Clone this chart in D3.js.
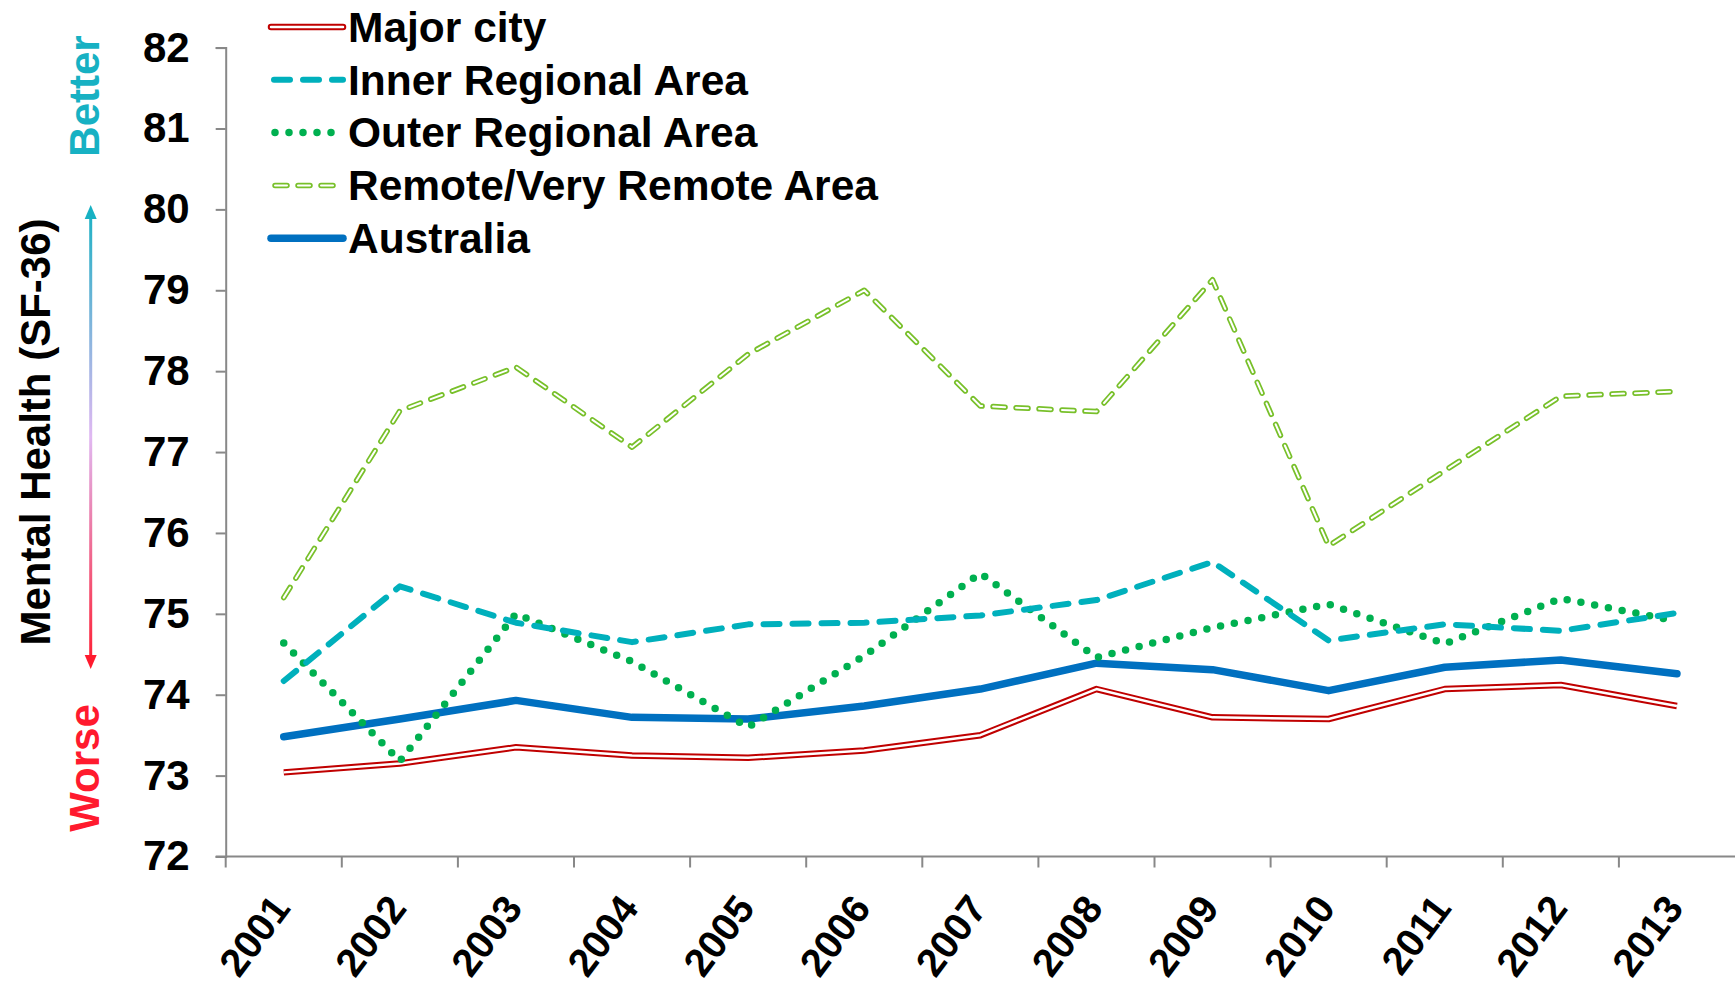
<!DOCTYPE html>
<html>
<head>
<meta charset="utf-8">
<script src="https://cdnjs.cloudflare.com/ajax/libs/d3/7.8.5/d3.min.js"></script>
<style>
    body { margin: 0; background: #fff; }
    svg text { font-family: "Liberation Sans", Arial, sans-serif; font-weight: bold; }
</style>
</head>
<body>
<div id="chart"></div>
<script>
// Years on the x axis
var years = ["2001", "2002", "2003", "2004", "2005", "2006", "2007", "2008", "2009", "2010", "2011", "2012", "2013"];

// Mental health (SF-36) values
var majorCity = [73.04, 73.15, 73.35, 73.25, 73.22, 73.31, 73.50, 74.07, 73.72, 73.70, 74.07, 74.12, 73.86];
var innerRegional = [74.17, 75.34, 74.89, 74.65, 74.87, 74.89, 74.98, 75.17, 75.64, 74.67, 74.87, 74.79, 75.01];
var outerRegional = [74.64, 73.18, 75.00, 74.41, 73.60, 74.48, 75.50, 74.46, 74.83, 75.12, 74.63, 75.19, 74.91];
var remoteArea = [75.20, 77.51, 78.05, 77.06, 78.21, 79.00, 77.57, 77.50, 79.13, 75.84, 76.77, 77.69, 77.75];
var australia = [73.48, 73.70, 73.93, 73.72, 73.70, 73.86, 74.07, 74.39, 74.31, 74.05, 74.34, 74.43, 74.26];

var yTicks = [72, 73, 74, 75, 76, 77, 78, 79, 80, 81, 82];

var seriesNames = ["Major city", "Inner Regional Area", "Outer Regional Area", "Remote/Very Remote Area", "Australia"];

var svgWidth = 1735;
var svgHeight = 983;
var margin = { top: 47.6, right: 0, bottom: 126.5, left: 225.7 };
var chartWidth = svgWidth - margin.left - margin.right;
var chartHeight = svgHeight - margin.top - margin.bottom;

var svg = d3.select("#chart").append("svg")
    .attr("width", svgWidth)
    .attr("height", svgHeight);

// gradient for the better/worse arrow
var defs = svg.append("defs");
var grad = defs.append("linearGradient")
    .attr("id", "arrowGrad")
    .attr("gradientUnits", "userSpaceOnUse")
    .attr("x1", 0).attr("y1", 205)
    .attr("x2", 0).attr("y2", 669);
grad.append("stop").attr("offset", "0%").attr("stop-color", "#17B1C3");
grad.append("stop").attr("offset", "50%").attr("stop-color", "#E0B8F2");
grad.append("stop").attr("offset", "100%").attr("stop-color", "#FF1A2E");

var chartGroup = svg.append("g")
    .attr("transform", `translate(${margin.left}, ${margin.top})`);

var xBand = d3.scaleBand().domain(years).range([0, chartWidth]).padding(0);
var yLinearScale = d3.scaleLinear().domain([72, 82]).range([chartHeight, 0]);

// y axis
var leftAxis = d3.axisLeft(yLinearScale)
    .tickValues(yTicks)
    .tickFormat(d3.format("d"))
    .tickSize(10)
    .tickPadding(26);
var yAxisG = chartGroup.append("g").call(leftAxis);
yAxisG.select(".domain").attr("stroke", "#888").attr("stroke-width", 2);
yAxisG.selectAll(".tick line").attr("stroke", "#888").attr("stroke-width", 2);
yAxisG.selectAll(".tick text")
    .attr("font-size", 42)
    .attr("fill", "#000")
    .attr("font-family", "Liberation Sans, Arial, sans-serif");

// x axis: line plus ticks at band boundaries
var xAxisG = chartGroup.append("g").attr("transform", `translate(0, ${chartHeight})`);
xAxisG.append("line")
    .attr("x1", -10).attr("x2", chartWidth)
    .attr("y1", 0).attr("y2", 0)
    .attr("stroke", "#888").attr("stroke-width", 2);
xAxisG.selectAll(".xtick")
    .data(years)
    .enter()
    .append("line")
    .attr("x1", d => xBand(d)).attr("x2", d => xBand(d))
    .attr("y1", 0).attr("y2", 11)
    .attr("stroke", "#888").attr("stroke-width", 2);
xAxisG.selectAll(".xlabel")
    .data(years)
    .enter()
    .append("text")
    .attr("transform", d => `translate(${xBand(d) + xBand.bandwidth() / 2 - 3}, 44) rotate(-53)`)
    .attr("text-anchor", "end")
    .attr("dy", "0.35em")
    .attr("font-size", 39.5)
    .attr("fill", "#000")
    .text(d => d);

// line generator
function lineFor(values) {
    var line = d3.line()
        .x((d, i) => xBand(years[i]) + xBand.bandwidth() / 2)
        .y(d => yLinearScale(d));
    return line(values);
}

var linesGroup = chartGroup.append("g").attr("fill", "none");

// Remote/Very Remote: double dashed light green
linesGroup.append("path")
    .attr("d", lineFor(remoteArea))
    .attr("stroke", "#78C02A").attr("stroke-width", 5.5)
    .attr("stroke-dasharray", "12,11").attr("stroke-linecap", "round").attr("stroke-linejoin", "round");
linesGroup.append("path")
    .attr("d", lineFor(remoteArea))
    .attr("stroke", "#fff").attr("stroke-width", 2)
    .attr("stroke-dasharray", "12,11").attr("stroke-linecap", "round").attr("stroke-linejoin", "round");

// Major city: double red line
linesGroup.append("path")
    .attr("d", lineFor(majorCity))
    .attr("stroke", "#C00000").attr("stroke-width", 6.5)
    .attr("stroke-linejoin", "round");
linesGroup.append("path")
    .attr("d", lineFor(majorCity))
    .attr("stroke", "#fff").attr("stroke-width", 2.5)
    .attr("stroke-linejoin", "round");

// Australia: thick blue
linesGroup.append("path")
    .attr("d", lineFor(australia))
    .attr("stroke", "#0070C0").attr("stroke-width", 7.5)
    .attr("stroke-linejoin", "round").attr("stroke-linecap", "round");

// Outer Regional: round dots
linesGroup.append("path")
    .attr("d", lineFor(outerRegional))
    .attr("stroke", "#00B050").attr("stroke-width", 7.5)
    .attr("stroke-dasharray", "0,14").attr("stroke-linecap", "round");

// Inner Regional: teal dashes
linesGroup.append("path")
    .attr("d", lineFor(innerRegional))
    .attr("stroke", "#00B0BC").attr("stroke-width", 6)
    .attr("stroke-dasharray", "16,13").attr("stroke-linecap", "round").attr("stroke-linejoin", "round");

// Legend
var legendX1 = 271, legendX2 = 343, legendY0 = 27, legendStep = 52.8;
var legend = svg.append("g");
seriesNames.forEach(function (name, i) {
    var y = legendY0 + i * legendStep;
    var g = legend.append("g");
    if (i === 0) {
        g.append("line").attr("x1", legendX1).attr("x2", legendX2).attr("y1", y).attr("y2", y)
            .attr("stroke", "#C00000").attr("stroke-width", 6.5).attr("stroke-linecap", "round");
        g.append("line").attr("x1", legendX1).attr("x2", legendX2).attr("y1", y).attr("y2", y)
            .attr("stroke", "#fff").attr("stroke-width", 2.5).attr("stroke-linecap", "round");
    } else if (i === 1) {
        g.append("line").attr("x1", legendX1 + 3).attr("x2", legendX2).attr("y1", y).attr("y2", y)
            .attr("stroke", "#00B0BC").attr("stroke-width", 6)
            .attr("stroke-dasharray", "16,13").attr("stroke-linecap", "round");
    } else if (i === 2) {
        g.append("line").attr("x1", legendX1 + 4).attr("x2", legendX2).attr("y1", y).attr("y2", y)
            .attr("stroke", "#00B050").attr("stroke-width", 7.5)
            .attr("stroke-dasharray", "0,14").attr("stroke-linecap", "round");
    } else if (i === 3) {
        g.append("line").attr("x1", legendX1 + 4).attr("x2", legendX2).attr("y1", y).attr("y2", y)
            .attr("stroke", "#78C02A").attr("stroke-width", 5.5)
            .attr("stroke-dasharray", "12,11").attr("stroke-linecap", "round");
        g.append("line").attr("x1", legendX1 + 4).attr("x2", legendX2).attr("y1", y).attr("y2", y)
            .attr("stroke", "#fff").attr("stroke-width", 2)
            .attr("stroke-dasharray", "12,11").attr("stroke-linecap", "round");
    } else {
        g.append("line").attr("x1", legendX1).attr("x2", legendX2).attr("y1", y).attr("y2", y)
            .attr("stroke", "#0070C0").attr("stroke-width", 7.5).attr("stroke-linecap", "round");
    }
    g.append("text")
        .attr("x", 348)
        .attr("y", y)
        .attr("dy", "0.35em")
        .attr("font-size", 42.5)
        .attr("fill", "#000")
        .text(name);
});

// Y axis title
svg.append("text")
    .attr("transform", "translate(35, 432) rotate(-90)")
    .attr("text-anchor", "middle")
    .attr("dy", "0.35em")
    .attr("font-size", 42)
    .attr("fill", "#000")
    .text("Mental Health (SF-36)");

svg.append("text")
    .attr("transform", "translate(84, 96) rotate(-90)")
    .attr("text-anchor", "middle")
    .attr("dy", "0.35em")
    .attr("font-size", 42)
    .attr("fill", "#17B1C3")
    .text("Better");

svg.append("text")
    .attr("transform", "translate(84, 768) rotate(-90)")
    .attr("text-anchor", "middle")
    .attr("dy", "0.35em")
    .attr("font-size", 42)
    .attr("fill", "#FF1A2E")
    .text("Worse");

// gradient arrow
var arrowX = 90.7;
svg.append("rect")
    .attr("x", arrowX - 1.5).attr("y", 215)
    .attr("width", 3).attr("height", 444)
    .attr("fill", "url(#arrowGrad)");
svg.append("path")
    .attr("d", `M${arrowX},205 L${arrowX - 6},219 L${arrowX + 6},219 Z`)
    .attr("fill", "#17B1C3");
svg.append("path")
    .attr("d", `M${arrowX},669 L${arrowX - 6},655 L${arrowX + 6},655 Z`)
    .attr("fill", "#FF1A2E");
</script>
</body>
</html>
